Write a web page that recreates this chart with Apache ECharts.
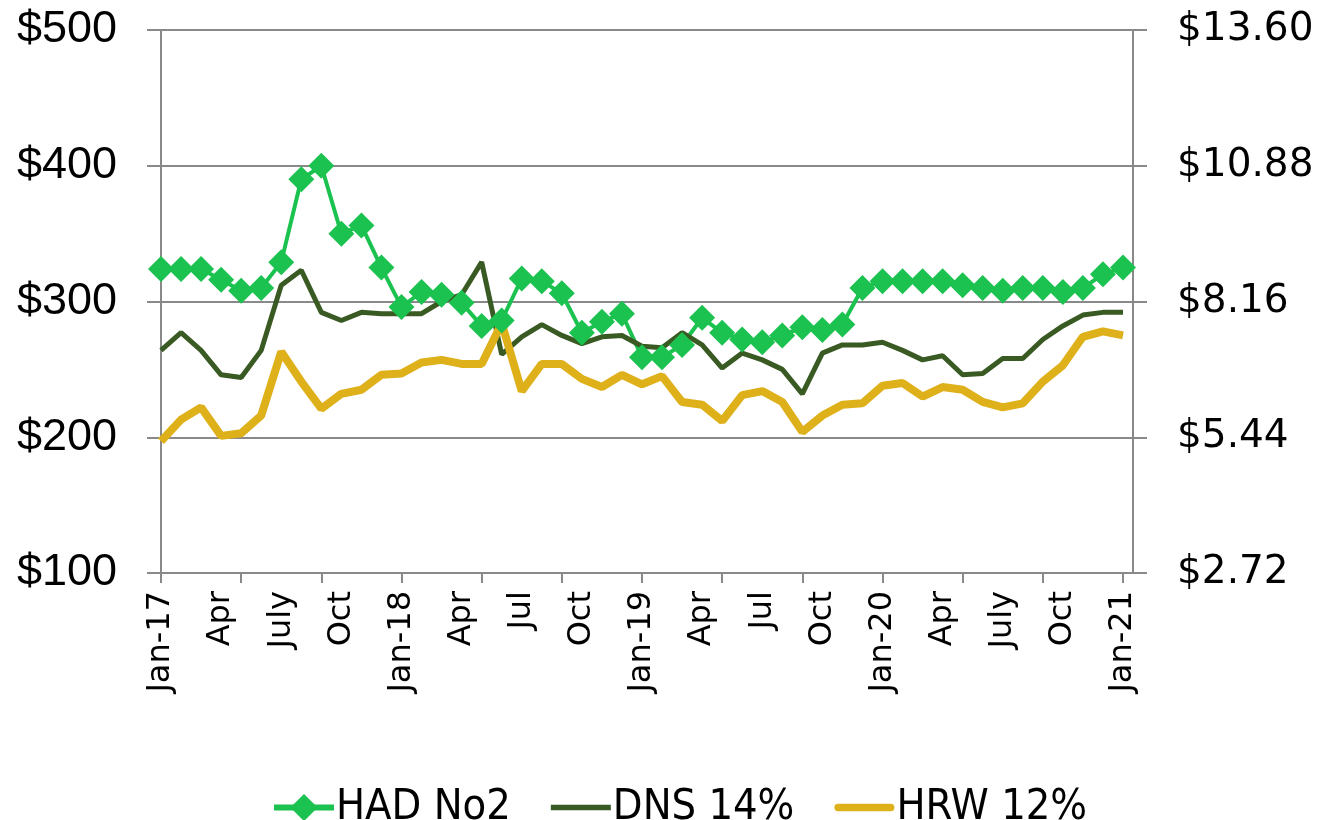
<!DOCTYPE html>
<html>
<head>
<meta charset="utf-8">
<script src="https://cdn.jsdelivr.net/npm/echarts@6/dist/echarts.min.js"></script>
<style>
  html, body { margin: 0; padding: 0; background: #fff; }
  #chart { width: 1322px; height: 820px; }
</style>
</head>
<body>
<div id="chart"></div>
<script>
// monthly, Jan-17 .. Jan-21 (49 points), $ per ton
const tickLabels = ['Jan-17','Apr','July','Oct','Jan-18','Apr','Jul','Oct','Jan-19','Apr','Jul','Oct','Jan-20','Apr','July','Oct','Jan-21'];

const hadNo2 = [324,324,324,316,308,310,329,390,400,350,356,325,
                296,307,305,299,282,286,317,315,306,277,285,291,
                259,259,268,288,277,272,270,275,281,279,283,310,
                315,315,315,315,312,310,308,310,310,307,310,320,325];

const dns14 = [264,277,264,246,244,264,312,323,292,286,292,291,
               291,291,300,305,329,261,274,283,275,269,274,275,
               267,266,277,268,251,262,257,250,232,262,268,268,
               270,264,257,260,246,247,258,258,272,282,290,292,292];

const hrw12 = [197,213,222,201,203,216,263,241,221,232,235,246,
               247,255,257,254,254,284,234,254,254,243,237,246,
               239,245,226,224,212,231,234,226,204,216,224,225,
               238,240,230,237,235,226,222,225,241,253,274,278,275];

const idx = arr => arr.map((v, i) => [i, v]);

const chart = echarts.init(document.getElementById('chart'));

const axisGrey = '#898989';
const green = '#1bc24f', dark = '#3a5a24', gold = '#deb019';

chart.setOption({
  animation: false,
  grid: { left: 161, right: 189, top: 30, bottom: 247, containLabel: false },
  legend: {
    left: 266,
    top: 781,
    itemWidth: 60,
    itemHeight: 34,
    itemGap: 40,
    symbolKeepAspect: true,
    textStyle: { fontFamily: 'DejaVu Sans Condensed', fontSize: 43, color: '#000', padding: [0, 0, 0, -3] },
    data: [
      { name: 'HAD No2', lineStyle: { width: 6 } },
      { name: 'DNS 14%', icon: 'path://M0,0 H56 V5 H0 Z' },
      { name: 'HRW 12%', icon: 'path://M4,0 H62 A4,4 0 0 1 62,8 H4 A4,4 0 0 1 4,0 Z' }
    ]
  },
  xAxis: {
    type: 'value',
    min: 0,
    max: 48.5,
    splitLine: { show: false },
    axisLine: { show: true, lineStyle: { color: axisGrey, width: 2 } },
    axisTick: {
      show: true, length: 10, lineStyle: { color: axisGrey, width: 2 },
      customValues: tickLabels.map((_, i) => i * 4).filter(v => v <= 48)
    },
    axisLabel: {
      rotate: 90,
      margin: 18,
      fontFamily: 'DejaVu Sans',
      fontSize: 32,
      color: '#000',
      customValues: tickLabels.map((_, i) => i * 3),
      formatter: v => tickLabels[Math.round(v / 3)] || ''
    }
  },
  yAxis: [
    {
      type: 'value',
      min: 100, max: 500, interval: 100,
      axisLine: { show: true, lineStyle: { color: axisGrey, width: 2 } },
      axisTick: { show: true, length: 14, lineStyle: { color: axisGrey, width: 2 } },
      splitLine: { show: true, lineStyle: { color: axisGrey, width: 2 } },
      axisLabel: {
        margin: 44,
        fontFamily: 'Liberation Sans, Arial',
        fontSize: 45,
        color: '#000',
        formatter: v => '$' + v
      }
    },
    {
      type: 'value',
      position: 'right',
      min: 2.72, max: 13.6, interval: 2.72,
      axisLine: { show: true, lineStyle: { color: axisGrey, width: 2 } },
      axisTick: { show: true, length: 14, lineStyle: { color: axisGrey, width: 2 } },
      splitLine: { show: false },
      axisLabel: {
        margin: 44,
        fontFamily: 'DejaVu Sans',
        fontSize: 39,
        color: '#000',
        formatter: v => '$' + v.toFixed(2)
      }
    }
  ],
  series: [
    {
      name: 'HAD No2',
      type: 'line',
      data: idx(hadNo2),
      symbol: 'diamond',
      symbolSize: 26,
      color: green,
      lineStyle: { width: 4, color: green },
      itemStyle: { color: green }
    },
    {
      name: 'DNS 14%',
      type: 'line',
      data: idx(dns14),
      symbol: 'none',
      color: dark,
      lineStyle: { width: 5, color: dark }
    },
    {
      name: 'HRW 12%',
      type: 'line',
      data: idx(hrw12),
      symbol: 'none',
      color: gold,
      lineStyle: { width: 8, color: gold }
    }
  ]
});
</script>
</body>
</html>
